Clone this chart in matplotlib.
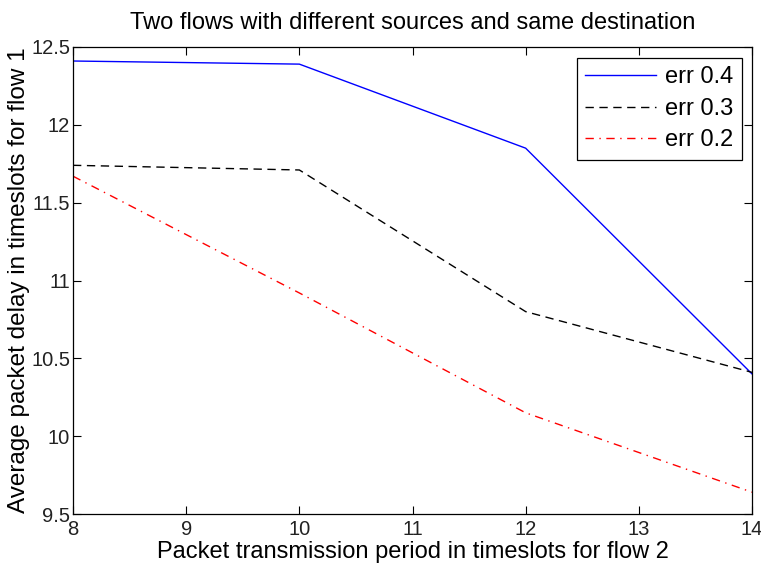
import numpy as np
import matplotlib
matplotlib.use('Agg')
import matplotlib.pyplot as plt

plt.rcParams['font.family'] = ['Liberation Sans', 'DejaVu Sans']

period = [8, 10, 12, 14]
err_04 = [12.41, 12.39, 11.85, 10.40]
err_03 = [11.74, 11.71, 10.80, 10.41]
err_02 = [11.67, 10.92, 10.15, 9.64]
labels = ['err 0.4', 'err 0.3', 'err 0.2']
xticks = [8, 9, 10, 11, 12, 13, 14]
yticks = [9.5, 10, 10.5, 11, 11.5, 12, 12.5]

fs = 17
fig = plt.figure(figsize=(7.61, 5.75), dpi=100)
ax = fig.add_axes([73/761, 61/575, 679/761, 467/575])

ax.plot(period, err_04, color='#0000ff', lw=1.0, ls='-', label=labels[0])
ax.plot(period, err_03, color='k', lw=1.0, ls=(0, (6, 4)), label=labels[1])
ax.plot(period, err_02, color='#ff0000', lw=1.0, ls=(0, (6, 4, 1, 4)), label=labels[2])

ax.set_xlim(8, 14)
ax.set_ylim(9.5, 12.5)
ax.set_xticks(xticks)
ax.set_yticks(yticks)
ax.set_xticklabels([str(v) for v in xticks])
ax.set_yticklabels(['9.5', '10', '10.5', '11', '11.5', '12', '12.5'])
ax.tick_params(direction='in', length=6, width=0.8, labelsize=14.5, top=True, right=True,
               colors='k', labelcolor='#222222', pad=2)
ax.tick_params(axis='x', pad=4)
for s in ax.spines.values():
    s.set_linewidth(0.9)

ax.set_xlabel('Packet transmission period in timeslots for flow 2', fontsize=fs, labelpad=2)
ax.set_ylabel('Average packet delay in timeslots for flow 1', fontsize=17.5, labelpad=1)
ax.set_title('Two flows with different sources and same destination', fontsize=fs, pad=13)

leg = ax.legend(loc='upper right', fontsize=fs, fancybox=False, framealpha=1,
                edgecolor='k', handlelength=3.0, borderpad=0.35, labelspacing=0.4,
                handletextpad=0.4, borderaxespad=0, bbox_to_anchor=(0.985, 0.976))
leg.get_frame().set_linewidth(0.9)

fig.savefig('out.png', dpi=100)
